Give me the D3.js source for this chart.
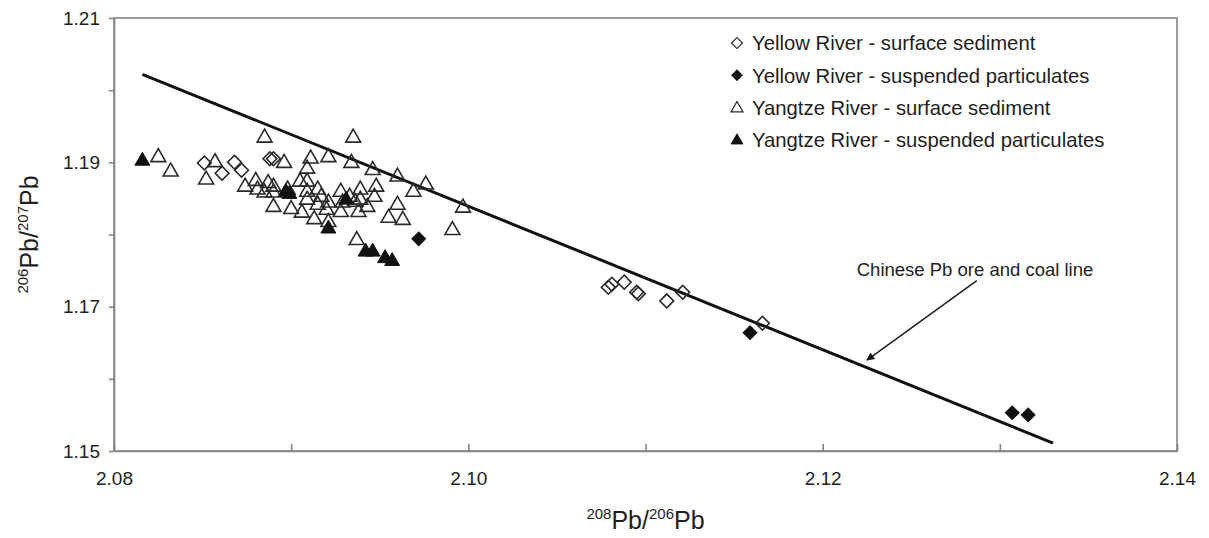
<!DOCTYPE html>
<html>
<head>
<meta charset="utf-8">
<script src="https://cdn.jsdelivr.net/npm/d3@7"></script>
<style>
  html, body { margin: 0; padding: 0; background: #fff; }
  svg { display: block; font-family: "Liberation Sans", Arial, sans-serif; }
</style>
</head>
<body>
<svg id="chart" width="1209" height="538"></svg>
<script>
// ---------------- data ----------------
const xTicks = [2.08, 2.09, 2.10, 2.11, 2.12, 2.13, 2.14];
const xTickLabels = ["2.08", "", "2.10", "", "2.12", "", "2.14"];
const yTicks = [1.15, 1.16, 1.17, 1.18, 1.19, 1.20, 1.21];
const yTickLabels = ["1.15", "", "1.17", "", "1.19", "", "1.21"];

const seriesNames = [
  "Yellow River - surface sediment",
  "Yellow River - suspended particulates",
  "Yangtze River - surface sediment",
  "Yangtze River - suspended particulates"
];

// Yellow River - surface sediment
const yellowSurfX = [2.0851, 2.0861, 2.0868, 2.0872, 2.0888, 2.0890, 2.1079, 2.1081, 2.1088, 2.1095, 2.1096, 2.1112, 2.1121, 2.1166];
const yellowSurfY = [1.1899, 1.1885, 1.1900, 1.1889, 1.1905, 1.1905, 1.1727, 1.1731, 1.1734, 1.1720, 1.1718, 1.1708, 1.1720, 1.1677];

// Yellow River - suspended particulates
const yellowSuspX = [2.0972, 2.1159, 2.1307, 2.1316];
const yellowSuspY = [1.1794, 1.1664, 1.1553, 1.1550];

// Yangtze River - surface sediment
const yangtzeSurfX = [2.0825, 2.0832, 2.0857, 2.0852, 2.0885, 2.0896, 2.0874, 2.0880, 2.0887, 2.0890,
  2.0885, 2.0890, 2.0890, 2.0900, 2.0906, 2.0905, 2.0909, 2.0911, 2.0909, 2.0921,
  2.0935, 2.0934, 2.0898, 2.0909, 2.0915, 2.0917, 2.0909, 2.0915, 2.0921, 2.0920,
  2.0913, 2.0921, 2.0928, 2.0929, 2.0936, 2.0928, 2.0933, 2.0946, 2.0960, 2.0976,
  2.0969, 2.0997, 2.0939, 2.0948, 2.0947, 2.0939, 2.0943, 2.0938, 2.0960, 2.0955,
  2.0963, 2.0991, 2.0937, 2.0881];
const yangtzeSurfY = [1.1907, 1.1887, 1.1900, 1.1876, 1.1934, 1.1899, 1.1866, 1.1874, 1.1871, 1.1866,
  1.1858, 1.1858, 1.1838, 1.1835, 1.1830, 1.1873, 1.1873, 1.1905, 1.1891, 1.1907,
  1.1934, 1.1899, 1.1862, 1.1859, 1.1862, 1.1852, 1.1848, 1.1841, 1.1844, 1.1834,
  1.1821, 1.1817, 1.1859, 1.1844, 1.1845, 1.1831, 1.1852, 1.1889, 1.1880, 1.1869,
  1.1859, 1.1837, 1.1862, 1.1866, 1.1852, 1.1848, 1.1838, 1.1831, 1.1841, 1.1823,
  1.1820, 1.1806, 1.1792, 1.1862];

// Yangtze River - suspended particulates
const yangtzeSuspX = [2.0816, 2.0897, 2.0899, 2.0921, 2.0931, 2.0942, 2.0946, 2.0953, 2.0957];
const yangtzeSuspY = [1.1902, 1.1859, 1.1856, 1.1808, 1.1848, 1.1776, 1.1776, 1.1767, 1.1763];

// Chinese Pb ore and coal line
const oreLineX = [2.0816, 2.1330];
const oreLineY = [1.2022, 1.1511];
const annotationText = "Chinese Pb ore and coal line";
const arrowX = [2.1287, 2.1225];
const arrowY = [1.1736, 1.1626];
const annotationPos = [2.12860, 1.17420];

// ---------------- chart ----------------
const svg = d3.select("#chart");
const plot = { left: 114, top: 18, right: 1177, bottom: 451 };

const x = d3.scaleLinear().domain([2.08, 2.14]).range([plot.left, plot.right]);
const y = d3.scaleLinear().domain([1.15, 1.21]).range([plot.bottom, plot.top]);

const axisColor = "#858585";
const inkColor = "#1e1e1e";

// plot frame
svg.append("rect")
  .attr("x", plot.left).attr("y", plot.top)
  .attr("width", plot.right - plot.left).attr("height", plot.bottom - plot.top)
  .attr("fill", "none").attr("stroke", axisColor).attr("stroke-width", 1.6);

// y axis
const yAxis = d3.axisLeft(y)
  .tickValues(yTicks)
  .tickSizeInner(5).tickSizeOuter(0).tickPadding(9)
  .tickFormat((d, i) => yTickLabels[i]);
const gy = svg.append("g").attr("transform", `translate(${plot.left},0)`).call(yAxis);
gy.select(".domain").attr("stroke", axisColor).attr("stroke-width", 1.6);
gy.selectAll(".tick line").attr("stroke", axisColor).attr("stroke-width", 1.6);
gy.selectAll(".tick text").attr("font-size", 19).attr("fill", inkColor)
  .attr("font-family", "Liberation Sans, Arial, sans-serif");

// x axis
const xAxis = d3.axisBottom(x)
  .tickValues(xTicks)
  .tickSizeInner(-7).tickSizeOuter(0).tickPadding(21)
  .tickFormat((d, i) => xTickLabels[i]);
const gx = svg.append("g").attr("transform", `translate(0,${plot.bottom})`).call(xAxis);
gx.select(".domain").attr("stroke", axisColor).attr("stroke-width", 1.6);
gx.selectAll(".tick line").attr("stroke", axisColor).attr("stroke-width", 1.6);
gx.selectAll(".tick text").attr("font-size", 19).attr("fill", inkColor)
  .attr("font-family", "Liberation Sans, Arial, sans-serif");

// axis titles
const xTitle = svg.append("text")
  .attr("x", (plot.left + plot.right) / 2).attr("y", 529)
  .attr("text-anchor", "middle").attr("font-size", 25).attr("fill", inkColor);
xTitle.append("tspan").attr("font-size", 15).attr("dy", -10).text("208");
xTitle.append("tspan").attr("dy", 10).text("Pb/");
xTitle.append("tspan").attr("font-size", 15).attr("dy", -10).text("206");
xTitle.append("tspan").attr("dy", 10).text("Pb");

const yTitle = svg.append("text")
  .attr("transform", `translate(38,${(plot.top + plot.bottom) / 2}) rotate(-90)`)
  .attr("text-anchor", "middle").attr("font-size", 25).attr("fill", inkColor);
yTitle.append("tspan").attr("font-size", 15).attr("dy", -10).text("206");
yTitle.append("tspan").attr("dy", 10).text("Pb/");
yTitle.append("tspan").attr("font-size", 15).attr("dy", -10).text("207");
yTitle.append("tspan").attr("dy", 10).text("Pb");

// ore & coal line
const lineGen = d3.line().x(d => x(d[0])).y(d => y(d[1]));
svg.append("path")
  .datum(d3.zip(oreLineX, oreLineY))
  .attr("d", lineGen)
  .attr("fill", "none").attr("stroke", "#111").attr("stroke-width", 3);

// markers
const diamond = d3.symbol().type(d3.symbolSquare).size(95);
const triangle = d3.symbol().type(d3.symbolTriangle).size(96);
const markerStroke = "#2a2a2a";

function drawSeries(xs, ys, kind, filled) {
  const g = svg.append("g");
  g.selectAll("path")
    .data(d3.zip(xs, ys))
    .join("path")
    .attr("d", kind === "diamond" ? diamond() : triangle())
    .attr("transform", d => `translate(${x(d[0])},${y(d[1])})` + (kind === "diamond" ? " rotate(45)" : ""))
    .attr("fill", filled ? "#111" : "none")
    .attr("stroke", filled ? "#111" : markerStroke)
    .attr("stroke-width", filled ? 1 : 1.6);
}
drawSeries(yangtzeSurfX, yangtzeSurfY, "triangle", false);
drawSeries(yellowSurfX, yellowSurfY, "diamond", false);
drawSeries(yangtzeSuspX, yangtzeSuspY, "triangle", true);
drawSeries(yellowSuspX, yellowSuspY, "diamond", true);

// annotation arrow
const defs = svg.append("defs");
defs.append("marker")
  .attr("id", "arrowhead")
  .attr("viewBox", "0 0 10 10").attr("refX", 9).attr("refY", 5)
  .attr("markerWidth", 10).attr("markerHeight", 8)
  .attr("markerUnits", "userSpaceOnUse")
  .attr("orient", "auto")
  .append("path").attr("d", "M0,0 L10,5 L0,10 Z").attr("fill", "#111");
svg.append("path")
  .datum(d3.zip(arrowX, arrowY))
  .attr("d", lineGen)
  .attr("fill", "none").attr("stroke", "#222").attr("stroke-width", 1.6)
  .attr("marker-end", "url(#arrowhead)");
svg.append("text")
  .attr("x", x(annotationPos[0])).attr("y", y(annotationPos[1]))
  .attr("text-anchor", "middle").attr("font-size", 18.5).attr("fill", inkColor)
  .text(annotationText);

// legend
const legendKinds = [["diamond", false], ["diamond", true], ["triangle", false], ["triangle", true]];
const legend = svg.append("g").attr("transform", "translate(737,43)");
const rows = legend.selectAll("g").data(seriesNames).join("g")
  .attr("transform", (d, i) => `translate(0,${i * 32.2})`);
rows.append("path")
  .attr("d", (d, i) => legendKinds[i][0] === "diamond" ? diamond() : triangle())
  .attr("transform", (d, i) => legendKinds[i][0] === "diamond" ? "rotate(45) scale(0.8)" : "translate(0,1) scale(0.8)")
  .attr("fill", (d, i) => legendKinds[i][1] ? "#111" : "none")
  .attr("stroke", (d, i) => legendKinds[i][1] ? "#111" : markerStroke)
  .attr("stroke-width", (d, i) => legendKinds[i][1] ? 1 : 1.5);
rows.append("text")
  .attr("x", 15).attr("dy", "0.36em")
  .attr("font-size", 20.3).attr("fill", inkColor)
  .text(d => d);
</script>
</body>
</html>
